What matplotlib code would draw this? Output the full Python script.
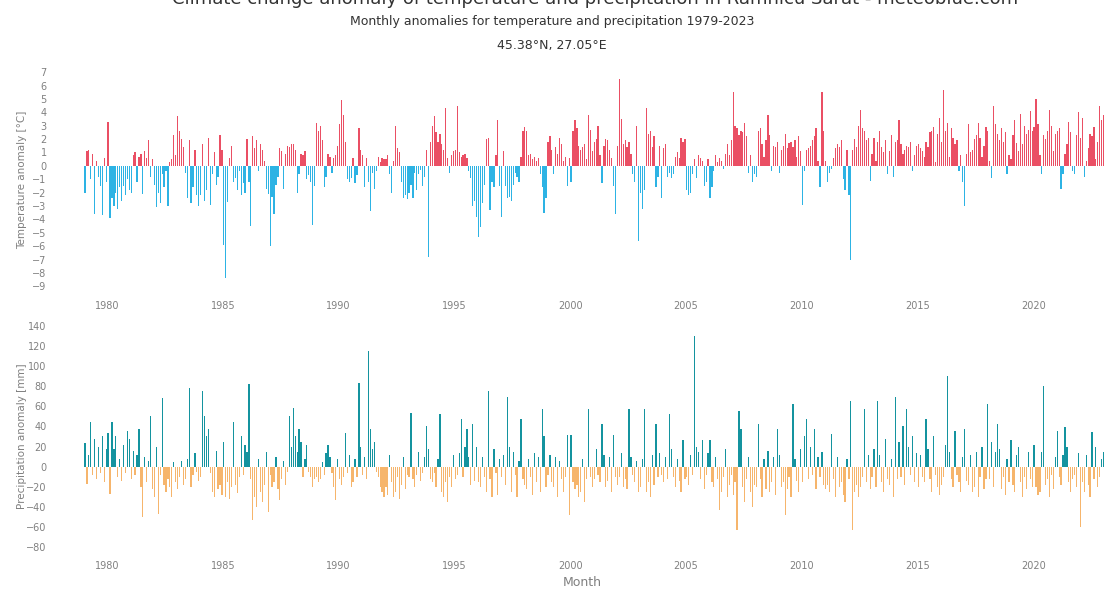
import numpy as np
import matplotlib
matplotlib.use("Agg")
import matplotlib.pyplot as plt

# monthly anomalies 1979-2023, one row per year (Jan..Dec)
first_year = 1979
temp_anom = [
    -2.0, 1.1, 1.2, -1.0, 0.9, -3.6, 0.4, -0.8, -1.5, -3.7, 0.6, -1.2,   # 1979
    3.3, -3.9, -2.4, -3.0, -2.0, -3.2, -1.6, -2.6, -1.5, -2.2, -1.0, -1.8,  # 1980
    -2.0, 0.8, 1.0, -1.2, 0.7, 0.9, -2.1, 1.1, 0.6, 1.9, -0.8, 0.5,      # 1981
    -1.4, -3.1, -2.0, -2.8, -0.6, -1.6, -0.4, -3.0, 0.3, 0.5, 2.3, 0.8,  # 1982
    3.7, 2.6, 2.0, 1.4, -0.5, -2.4, 1.9, -2.8, -1.6, 1.2, -2.2, -3.0,    # 1983
    -2.2, 1.6, -2.6, -1.8, 2.1, -2.9, -0.6, 1.0, -1.4, -0.8, 2.3, 1.2,   # 1984
    -5.9, -8.4, -2.7, 0.6, 1.5, -1.2, -0.9, -1.8, -0.4, -2.2, -1.3, -2.0,  # 1985
    2.0, -1.2, -4.5, 2.2, 1.3, 1.9, -0.4, 1.6, 1.2, 0.4, -1.7, -2.1,     # 1986
    -6.0, -2.3, -3.6, -1.4, -0.8, 1.3, 1.1, -1.7, 0.9, 1.5, 1.4, 1.6,    # 1987
    1.6, 1.2, -2.0, -0.6, 0.9, 0.8, 1.1, -1.0, -0.7, -1.2, -4.4, -1.5,   # 1988
    3.2, 2.6, 3.0, 1.9, -1.6, -0.8, 0.9, 0.7, -0.5, 0.6, 0.8, 1.5,       # 1989
    3.1, 4.9, 3.8, 1.8, -1.0, -1.2, -0.9, 0.6, -1.3, -0.7, 2.8, 1.2,     # 1990
    0.8, -1.6, 0.6, -1.2, -3.4, -0.5, -1.7, -0.4, 0.7, 0.3, 0.6, 0.5,    # 1991
    0.5, 0.8, -0.6, -2.0, 0.4, 3.0, 1.3, 1.0, -1.2, -2.4, -2.2, -2.5,    # 1992
    -2.0, -1.4, -2.4, -0.5, -1.8, -0.6, -0.3, -1.5, -0.8, 1.2, -6.8, 1.8,  # 1993
    3.0, 3.7, 2.5, 1.8, 2.4, 1.6, 1.2, 4.3, 0.6, -0.5, 0.8, 1.1,         # 1994
    1.2, 4.5, 1.0, 0.7, 0.8, 0.9, 0.6, -0.4, -0.9, -3.0, -2.6, -3.8,     # 1995
    -5.3, -4.6, -2.8, -1.4, 2.0, 2.1, -3.3, -1.2, -1.6, 0.8, 3.4, -1.5,  # 1996
    -3.8, 1.1, -1.5, -2.4, -2.3, -2.6, -1.4, -0.5, -0.8, -1.2, 0.7, 2.6,  # 1997
    2.9, 2.6, 0.8, 0.9, 0.5, 0.7, 0.4, 0.6, -0.6, -1.6, -3.5, -2.4,      # 1998
    1.8, 2.2, 1.2, -0.6, 1.4, 0.9, 2.1, 1.6, 0.4, 0.7, -1.5, 0.6,        # 1999
    -1.2, 2.6, 3.4, 2.8, 1.5, 1.2, 1.4, 1.6, 0.5, 3.8, 2.7, 1.1,         # 2000
    1.8, 2.0, 3.0, 0.8, -1.3, 1.5, 2.0, 1.9, 1.2, 0.6, -1.5, -3.6,       # 2001
    1.5, 6.5, 3.5, 1.6, 1.9, 1.4, 1.8, 0.9, -0.6, -1.2, 3.0, -5.6,       # 2002
    -2.0, -3.2, -1.8, 4.3, 2.4, 2.6, 1.4, 2.2, -1.6, -0.8, 1.5, -2.4,    # 2003
    1.3, 1.6, -0.8, -0.5, -0.9, -0.6, 0.7, 1.0, 0.6, 2.1, 1.8, 2.0,      # 2004
    -1.8, -2.2, -2.0, -0.6, 0.5, -0.9, 0.8, 0.6, 0.4, -1.5, -1.2, 0.5,   # 2005
    -2.4, -1.6, -0.4, 0.8, 0.3, 0.6, 0.4, -0.2, 0.9, 1.6, 0.8, 1.9,      # 2006
    5.5, 3.0, 2.8, 2.3, 2.6, 2.5, 3.2, 2.2, -0.5, 0.8, -1.2, -0.6,       # 2007
    -0.8, 2.6, 2.8, 1.6, 0.7, 1.9, 3.8, 2.3, -0.4, 1.5, 1.4, 1.8,        # 2008
    -0.5, 1.2, 1.5, 2.4, 1.3, 1.7, 1.8, 1.4, 1.9, 0.7, 2.2, 1.1,         # 2009
    -2.9, -0.4, 1.2, 1.3, 1.5, 1.9, 2.2, 2.8, 0.4, -1.6, 5.5, 2.6,       # 2010
    0.4, -1.2, -0.5, -0.2, 0.6, 1.3, 1.6, 1.4, 1.9, -1.0, -1.8, 1.2,     # 2011
    -2.2, -7.0, 1.2, 2.0, 1.4, 3.0, 4.2, 2.8, 2.6, 1.9, 2.1, -1.1,       # 2012
    0.9, 2.1, 0.4, 1.8, 2.6, 1.4, 1.0, 1.9, -0.6, 1.1, 2.3, -0.8,        # 2013
    1.8, 1.9, 3.4, 1.6, 0.9, 1.2, 1.5, 1.4, 1.8, -0.4, 0.8, 1.5,         # 2014
    1.6, 1.3, 1.1, 0.7, 1.8, 1.4, 2.5, 2.6, 2.9, 0.3, 2.4, 3.6,          # 2015
    1.8, 5.7, 2.6, 3.2, 0.7, 2.8, 2.1, 1.6, 1.9, -0.4, 0.8, -1.2,        # 2016
    -3.0, 0.9, 3.1, 1.0, 1.2, 2.0, 2.3, 3.2, 2.1, 0.7, 1.5, 2.9,         # 2017
    2.6, 0.4, -0.9, 4.5, 3.1, 2.4, 1.9, 2.8, 1.8, 2.5, -0.6, 0.8,        # 2018
    0.5, 2.3, 3.4, 1.7, 1.1, 3.9, 1.6, 3.0, 2.4, 2.7, 4.1, 2.6,          # 2019
    2.9, 5.0, 3.1, 0.8, -0.6, 2.3, 2.0, 2.6, 4.2, 3.0, 1.1, 2.4,         # 2020
    2.6, 2.8, -1.7, -0.6, 0.9, 1.6, 3.3, 2.5, -0.4, -0.6, 2.3, 4.0,      # 2021
    2.1, 3.6, -0.8, 0.4, 1.3, 2.4, 2.2, 2.9, 0.5, 1.8, 4.5, 3.4,         # 2022
    3.8, 2.9, 3.3, 0.2, 0.6, 1.8, 2.9, 3.6, 3.9, 2.8, 1.7, 3.0,          # 2023
]
precip_anom = [
    24, -17, 12, 44, -8, 28, -12, 20, -6, 30, -15, 18,        # 1979
    33, -27, 44, 18, 30, -10, 8, -14, 22, -6, 35, 28,         # 1980
    -12, 16, -8, 12, 37, -20, -50, 10, -15, 6, 50, -22,       # 1981
    -30, 20, -47, -8, 68, -18, -25, -12, -20, -30, 5, -15,    # 1982
    -22, -10, 6, -18, -12, 8, 78, -20, -8, 14, -5, -14,       # 1983
    -10, 75, 50, 30, 37, -6, -25, -30, 16, -22, -18, -28,     # 1984
    25, -30, -15, -32, -20, 44, -18, -26, -10, 30, -8, 22,    # 1985
    15, 82, -12, -53, -30, -40, 8, -25, -35, -18, 15, -45,    # 1986
    -8, -20, -15, 10, -22, -33, -12, 6, -18, -5, 50, 20,      # 1987
    58, 30, 15, 37, 25, -10, 8, 22, -5, -10, -20, -12,        # 1988
    -10, -15, -12, 5, -8, 14, 22, 10, -6, -20, -33, 8,        # 1989
    -12, -18, -10, 33, -6, 12, -20, -15, 8, -10, 83, 20,      # 1990
    -8, 10, -12, 115, 37, 18, 25, -5, -10, -20, -25, -30,     # 1991
    -20, -28, 12, -15, -30, -25, -10, -32, -18, 10, -22, -8,  # 1992
    -10, 53, -12, -20, -8, 15, -14, -6, 10, 40, 18, -12,      # 1993
    -15, -6, -20, 8, 52, -25, -30, -15, -35, -10, -20, 12,    # 1994
    -12, -8, 14, 47, -10, 20, 37, 10, -18, 42, -14, 20,       # 1995
    -15, -20, 10, -10, -25, 75, -12, -30, 18, -6, -28, 8,     # 1996
    -10, 12, -18, 69, 20, -25, 15, -8, -30, 6, 47, -12,       # 1997
    -18, -22, 8, -10, -28, 14, -15, 10, -25, 57, 30, -20,     # 1998
    -8, 12, -15, -20, 10, -30, 6, -12, -25, -10, 31, -48,     # 1999
    31, -15, -22, -18, -30, -25, 8, -35, -12, 57, -10, -20,   # 2000
    -12, 18, -8, -15, 42, 12, -20, -14, 10, -25, 31, -10,     # 2001
    -18, -10, 14, -20, -12, -22, 57, 10, -8, -15, 6, -25,     # 2002
    -20, 8, 57, -25, -15, -30, 12, -18, 42, -10, 14, -8,      # 2003
    -15, 10, -12, 52, 18, -10, -20, 8, -14, -25, 27, -12,     # 2004
    -10, -18, 12, -8, 130, 20, 15, -12, 27, -22, -8, 14,      # 2005
    27, -15, -20, 10, -12, -43, -25, -10, 18, -30, -18, -8,   # 2006
    -28, -15, -63, 55, 37, -20, -35, -12, 10, -25, -40, -18,  # 2007
    -20, 42, -12, -30, 8, -22, 16, -25, -15, 10, -28, 37,     # 2008
    12, -20, -15, -48, -22, -10, -30, 62, 8, -14, -25, 18,    # 2009
    -15, 30, 47, -12, 20, -8, 37, -22, 10, -10, 15, -18,      # 2010
    -22, -18, -25, 32, -12, -30, 10, -20, -15, -28, -35, 8,   # 2011
    -12, 65, -63, -25, -18, -30, -20, -10, 57, -15, 12, -22,  # 2012
    -10, 18, -20, 65, 12, -15, -25, 28, -12, -18, 8, -30,     # 2013
    69, -12, 25, -10, 40, -18, 57, 20, -8, 30, -15, 14,       # 2014
    -20, 12, -10, -15, 47, 18, -12, -25, 30, -8, -20, -28,    # 2015
    -18, -10, 22, 90, 15, -12, -20, 35, -8, -15, -25, 10,     # 2016
    37, -14, -18, 12, -25, -20, 15, -30, -10, 20, -22, -12,   # 2017
    62, -12, 25, -20, 15, 42, 18, -22, -10, -28, 8, -15,      # 2018
    27, -18, -25, 12, 20, -15, -30, -10, -22, 15, -12, -20,   # 2019
    22, -20, -28, -25, 15, 80, -18, -12, -30, -8, -22, 10,    # 2020
    35, -10, -18, 12, 39, 20, -15, -25, -12, -8, -20, 14,     # 2021
    -60, -15, -25, 12, -18, -30, 34, -12, 20, -20, -10, 8,    # 2022
    15, -20, -12, 25, -8, 18, -30, -15, -22, 10, 30, -12,     # 2023
]
year_ticks = [1980, 1985, 1990, 1995, 2000, 2005, 2010, 2015, 2020]
temp_ticks = list(range(-9, 8))
precip_ticks = list(range(-80, 141, 20))

temp = np.array(temp_anom)
prec = np.array(precip_anom, dtype=float)
x = first_year + (np.arange(len(temp)) + 0.5) / 12.0
w = 1 / 12 * 0.65

red, blue = "#ea4f64", "#2db3e4"
teal, orange = "#14939f", "#f6b56c"
grey = "#808080"

fig = plt.figure(figsize=(11.04, 5.91), dpi=100)
W, H = 1104, 591

def px_axes(left, top, right, bottom):
    return fig.add_axes([left / W, 1 - bottom / H, (right - left) / W, (bottom - top) / H])

ax1 = px_axes(80, 65.5, 1104, 293)
ax2 = px_axes(80, 321, 1104, 553)

ax1.bar(x, np.where(temp > 0, temp, 0), width=w, color=red, linewidth=0)
ax1.bar(x, np.where(temp < 0, temp, 0), width=w, color=blue, linewidth=0)
ax2.bar(x, np.where(prec > 0, prec, 0), width=w, color=teal, linewidth=0)
ax2.bar(x, np.where(prec < 0, prec, 0), width=w, color=orange, linewidth=0)

# 1979 Jan sits at ~84 px, one year ~23.15 px; the right end runs past the edge
x0 = first_year - 4 / 23.15
x1 = first_year + (1104 - 84) / 23.15
for ax in (ax1, ax2):
    ax.set_xlim(x0, x1)
    ax.set_xticks(year_ticks)
    ax.set_xticklabels([str(y) for y in year_ticks])
    for s in ax.spines.values():
        s.set_visible(False)
    ax.tick_params(length=0, labelsize=7, labelcolor=grey)
    ax.tick_params(axis="y", pad=24)
    ax.tick_params(axis="x", pad=6)

ax1.set_ylim(-9.5, 7.5)
ax1.set_yticks(temp_ticks)
ax2.set_ylim(-86, 145)
ax2.set_yticks(precip_ticks)

fig.text(22 / W, 1 - 180 / H, "Temperature anomaly [°C]", rotation=90,
         ha="center", va="center", fontsize=7.5, color=grey)
fig.text(22 / W, 1 - 436 / H, "Precipitation anomaly [mm]", rotation=90,
         ha="center", va="center", fontsize=7.5, color=grey)
fig.text(582 / W, 1 - 582 / H, "Month", ha="center", va="center", fontsize=9, color=grey)

# titles (main title is cut at the top edge like the reference)
fig.text(595 / W, 1 + 1 / H, "Climate change anomaly of temperature and precipitation in Râmnicu Sărat - meteoblue.com",
         ha="center", va="center", fontsize=13, color="#333333")
fig.text(552 / W, 1 - 21 / H, "Monthly anomalies for temperature and precipitation 1979-2023",
         ha="center", va="center", fontsize=9, color="#333333")
fig.text(552 / W, 1 - 45 / H, "45.38°N, 27.05°E",
         ha="center", va="center", fontsize=9, color="#333333")

fig.savefig("out.png", dpi=100)
